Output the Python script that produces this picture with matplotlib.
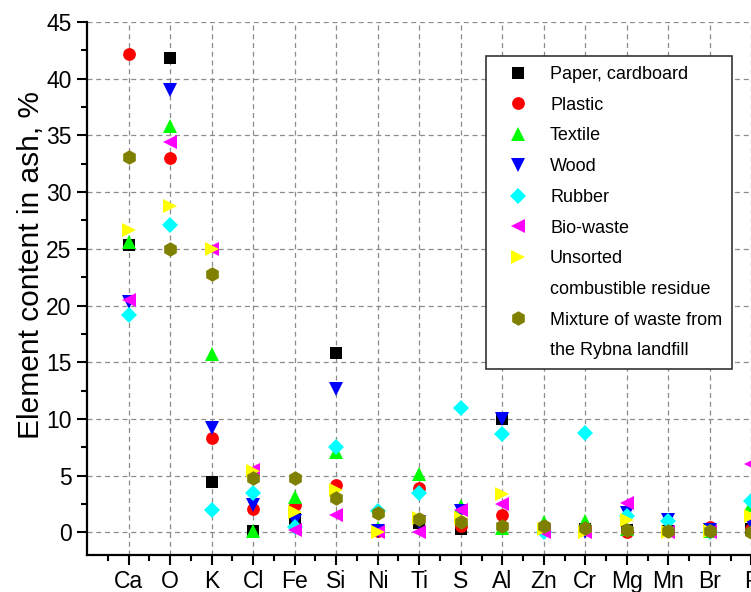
import matplotlib
matplotlib.use("Agg")
import matplotlib.pyplot as plt
from matplotlib.lines import Line2D
from matplotlib.ticker import MultipleLocator, FixedLocator

plt.rcParams['font.family'] = ['Liberation Sans', 'DejaVu Sans']

elements = ["Ca", "O", "K", "Cl", "Fe", "Si", "Ni", "Ti", "S", "Al",
            "Zn", "Cr", "Mg", "Mn", "Br", "P"]

paper    = [25.3, 41.8, 4.4, 0.1, 1.2, 15.8, 0.1, 0.8, 0.3, 10.0, 0.3, 0.3, 0.2, 0.1, 0.1, 0.3]
plastic  = [42.2, 33.0, 8.3, 2.1, 2.4, 4.2, 0.1, 3.9, 0.6, 1.5, 0.3, 0.3, 0.0, 0.1, 0.5, 0.3]
textile  = [25.6, 35.8, 15.7, 0.1, 3.1, 7.1, 0.4, 5.1, 2.3, 0.4, 0.9, 1.0, 0.3, 0.2, 0.1, 2.4]
wood     = [20.3, 39.0, 9.2, 2.4, 1.0, 12.6, 0.1, 0.9, 1.9, 10.0, 0.1, 0.0, 1.7, 1.1, 0.2, 0.8]
rubber   = [19.2, 27.1, 2.0, 3.5, 0.5, 7.5, 1.9, 3.5, 11.0, 8.7, 0.0, 8.8, 1.4, 1.0, 0.0, 2.8]
biowaste = [20.5, 34.4, 25.0, 5.5, 0.2, 1.5, 0.0, 0.0, 2.0, 2.5, 0.0, 0.0, 2.6, 0.0, 0.0, 6.0]
unsorted = [26.7, 28.8, 25.0, 5.4, 1.8, 3.7, 0.0, 1.3, 1.3, 3.4, 0.3, 0.0, 1.1, 0.0, 0.1, 1.4]
mixture  = [33.1, 25.0, 22.8, 4.8, 4.8, 3.0, 1.7, 1.2, 0.9, 0.6, 0.6, 0.4, 0.2, 0.1, 0.1, 0.0]

series_names = ["Paper, cardboard", "Plastic", "Textile", "Wood", "Rubber", "Bio-waste",
                "Unsorted\ncombustible residue", "Mixture of waste from\nthe Rybna landfill"]
series_values = [paper, plastic, textile, wood, rubber, biowaste, unsorted, mixture]

colors = ["#000000", "#FF0000", "#00FF00", "#0000FF", "#00FFFF", "#FF00FF", "#FFFF00", "#808000"]
markers = ["s", "o", "^", "v", "D", "<", ">", "h"]
msizes = [8.5, 9.2, 10.5, 10.5, 8.0, 10.5, 10.5, 10.5]

W, H = 751, 592
fig = plt.figure(figsize=(W / 100, H / 100), dpi=100)

# axes box in pixel coordinates (extends past the right edge, like the cropped original)
ax_left, ax_right, ax_top, ax_bottom = 87, 793, 22, 555
ax = fig.add_axes([ax_left / W, 1 - ax_bottom / H,
                   (ax_right - ax_left) / W, (ax_bottom - ax_top) / H])

x = list(range(1, len(elements) + 1))
handles, labels = [], []
for name, vals, c, m, ms in zip(series_names, series_values, colors, markers, msizes):
    ax.plot(x, vals, linestyle='none', marker=m, color=c, markersize=ms,
            markeredgewidth=0, zorder=3)
    parts = name.split("\n")
    handles.append(Line2D([], [], linestyle='none', marker=m, color=c,
                          markersize=ms, markeredgewidth=0))
    labels.append(parts[0])
    for p in parts[1:]:
        handles.append(Line2D([], [], linestyle='none', marker=None))
        labels.append(p)

ax.set_xlim(0, 17)
ax.set_ylim(-2, 45)
ax.xaxis.set_major_locator(FixedLocator(x))
ax.set_xticklabels(elements)
ax.xaxis.set_minor_locator(FixedLocator([i + 0.5 for i in range(0, 17)]))
ax.yaxis.set_major_locator(MultipleLocator(5))
ax.yaxis.set_minor_locator(MultipleLocator(2.5))

ax.grid(True, which='major', linestyle=(0, (4, 3)), color='#8c8c8c', linewidth=0.9, zorder=0)
ax.set_axisbelow(True)

for s in ['top', 'right']:
    ax.spines[s].set_visible(False)
for s in ['left', 'bottom']:
    ax.spines[s].set_linewidth(1.6)

ax.tick_params(which='major', direction='out', length=7, width=1.5, labelsize=16.5, pad=4)
ax.tick_params(which='minor', direction='out', length=4.5, width=1.5)

ax.set_ylabel("Element content in ash, %", fontsize=21.5)
ax.yaxis.set_label_coords((45 - ax_left) / (ax_right - ax_left), (ax_bottom - 265) / (ax_bottom - ax_top))

leg = ax.legend(handles, labels, loc='upper left',
                bbox_to_anchor=(486 / W, 1 - 56 / H), bbox_transform=fig.transFigure,
                borderaxespad=0, fontsize=13, frameon=True, fancybox=False,
                framealpha=1, edgecolor='#333333', labelspacing=0.76,
                handlelength=2.4, handletextpad=0.6, borderpad=0.55, numpoints=1)
leg.get_frame().set_linewidth(1.2)
leg.set_zorder(5)

fig.savefig("out.png", dpi=100)
